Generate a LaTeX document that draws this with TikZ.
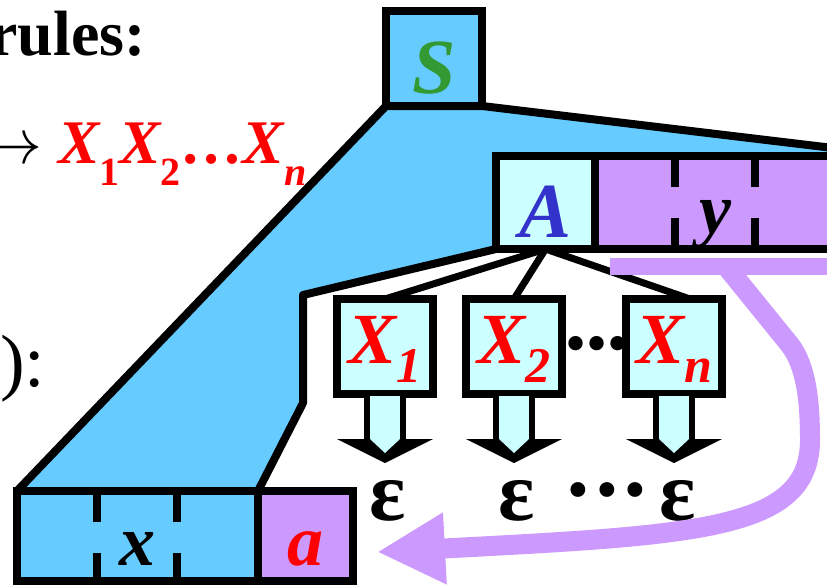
\RequirePackage{fix-cm}
\documentclass[tikz,border=0pt]{standalone}
\usepackage{fontspec}
\setmainfont{Liberation Serif}
\usetikzlibrary{arrows.meta, positioning, calc, backgrounds}
\definecolor{SkyFill}{RGB}{102,204,255}
\definecolor{CyanFill}{RGB}{204,255,255}
\definecolor{Lilac}{RGB}{204,153,255}
\definecolor{SymGreen}{RGB}{51,153,51}
\definecolor{SymBlue}{RGB}{51,51,204}
\newcommand{\bigfont}[1]{\fontsize{#1}{#1}\selectfont}
\newcommand{\Xsym}[4]{{\bigfont{#1}\bfseries\itshape X}\raisebox{-#3}{\bigfont{#2}\bfseries #4}}
\tikzset{
  cell/.style={draw, line width=8pt, inner sep=0pt, outer sep=0pt, text depth=0pt, font=\bigfont{72pt}\bfseries\itshape},
  leaf/.style={cell, fill=CyanFill, text=red, minimum width=96pt, minimum height=95pt, text height=33pt},
  branch/.style={line width=7pt},
  tickmark/.style={line width=8pt},
  epsnode/.style={inner sep=0pt, font=\bigfont{85pt}\bfseries}
}
\begin{document}
\begin{tikzpicture}[x=1pt, y=-1pt]
\useasboundingbox (0,0) rectangle (827,587);
\clip (0,0) rectangle (827,587);
% left-hand text
\node[anchor=base east, inner sep=0pt, font=\bigfont{64pt}\bfseries] (rulesline) at (146,55) {rules:};
\node[anchor=base west, inner sep=0pt, font=\bigfont{64pt}] (prodline) at (-22,163)
  {$\rightarrow$\hspace{16pt}\textcolor{red}{\Xsym{62pt}{40pt}{22pt}{1}\Xsym{62pt}{40pt}{22pt}{2}\bigfont{62pt}\bfseries\ldots\Xsym{62pt}{40pt}{22pt}{\itshape n}}};
\node[anchor=base west, inner sep=0pt, font=\bigfont{74pt}] (parenline) at (0,386) {):};
% tree cells
\node[cell, fill=SkyFill, text=SymGreen, minimum width=96pt, minimum height=95pt, text height=69pt, font=\bigfont{78pt}\bfseries\itshape] (S) at (434,58.5) {S};
\node[cell, fill=CyanFill, text=SymBlue, minimum width=99pt, minimum height=93pt, text height=69pt, font=\bigfont{78pt}\bfseries\itshape] (A) at (545.5,202.5) {A};
\node[cell, fill=Lilac, minimum width=240pt, minimum height=93pt, text height=61pt] (ycell) at (715,202.5) {y};
\node[cell, fill=SkyFill, minimum width=241pt, minimum height=90pt, text height=58pt] (xcell) at (137.5,536) {x};
\node[cell, fill=Lilac, text=red, minimum width=95pt, minimum height=90pt, text height=58pt] (acell) at (305.5,536) {a};
\foreach \dx in {80,160} {
  \draw[tickmark] ($(ycell.north west)+(\dx,0)$) -- ++(0,31);
  \draw[tickmark] ($(ycell.south west)+(\dx,0)$) -- ++(0,-31);
  \draw[tickmark] ($(xcell.north west)+(\dx,0)$) -- ++(0,31);
  \draw[tickmark] ($(xcell.south west)+(\dx,0)$) -- ++(0,-28);
}
% derived part of the tree
\begin{scope}[on background layer]
\filldraw[fill=SkyFill, line width=8pt, line join=round] (S.south west) -- (S.south east) -- (900,156) -- (A.north west)
  -- (A.south west) -- (303,295) -- (303,403) -- (xcell.north east) -- (xcell.north west) -- cycle;
\end{scope}
% children of A
\node[leaf] (X1) at (385,346.5) {\Xsym{72pt}{50pt}{19pt}{1}};
\node[leaf] (X2) at (514,346.5) {\Xsym{72pt}{50pt}{19pt}{2}};
\node[leaf] (Xn) at (674,346.5) {\Xsym{72pt}{50pt}{19pt}{\itshape n}};
\node[inner sep=0pt, font=\bigfont{60pt}] (xdots) at (597,350) {•••};
\draw[branch] (A.south) -- (X1.north);
\draw[branch] (A.south) -- (X2.north);
\draw[branch] (A.south) -- ($(Xn.north)+(16,0)$);
\node[epsnode] (e1) at (388,501) {ε};
\node[epsnode] (e2) at (517,501) {ε};
\node[epsnode] (en) at (678,501) {ε};
\node[inner sep=0pt, font=\bigfont{62pt}] (edots) at (607,497) {•\kern7pt•\kern7pt•};
% block arrows X -> epsilon
\foreach \n in {X1,X2,Xn} {
  \fill ($(\n.south)+(-48,45)$) -- ++(96,0) -- ++(-48,24) -- cycle;
  \fill[CyanFill] ($(\n.south)+(-15,2)$) -- ++(0,43) -- ++(15,14) -- ++(15,-14) -- ++(0,-43) -- cycle;
  \draw[line width=6pt] ($(\n.south)+(-18,0)$) -- ++(0,45);
  \draw[line width=6pt] ($(\n.south)+(18,0)$) -- ++(0,45);
}
% y moves to the end
\coordinate (ytail) at (726,266);
\draw[Lilac, line width=17pt] ($(ycell.south west)+(15,17)$) -- ($(ycell.south east)+(20,17)$);
\draw[Lilac, line width=20pt, -{Triangle[length=68pt, width=67pt]}] (ytail) -- (790,345)
  .. controls (806,366) and (810,400) .. (810,440)
  .. controls (810,530) and (700,535) .. ($(acell.east)+(24,16)$);
\end{tikzpicture}
\end{document}
